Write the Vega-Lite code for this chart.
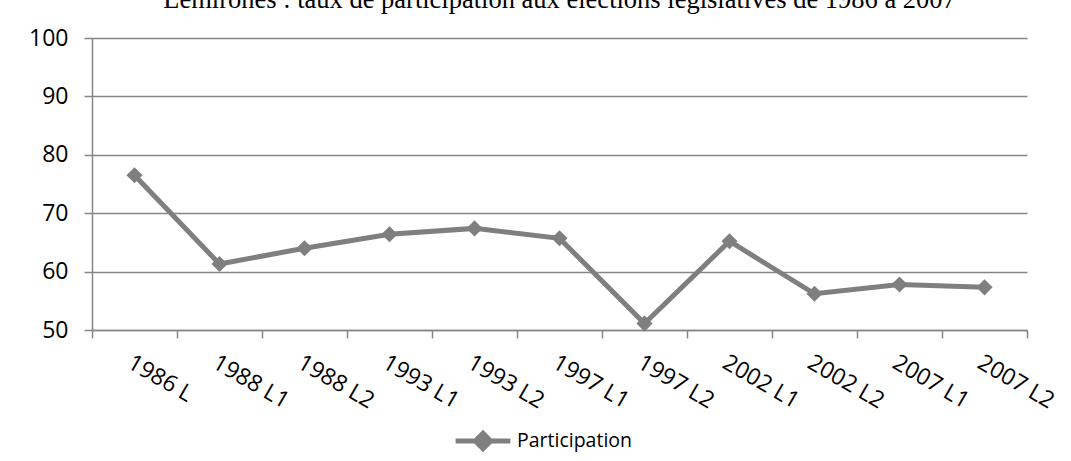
{
  "$schema": "https://vega.github.io/schema/vega-lite/v6.json",
  "autosize": {"type": "none"},
  "width": 935,
  "height": 292,
  "padding": {"left": 92, "top": 38, "right": 44, "bottom": 131},
  "background": "white",
  "title": {
    "text": "Lemirones : taux de participation aux élections législatives de 1986 à 2007",
    "font": "Liberation Serif",
    "fontSize": 26.5,
    "fontWeight": "normal",
    "color": "black",
    "anchor": "middle",
    "frame": "group",
    "baseline": "alphabetic",
    "offset": -7
  },
  "data": {
    "values": [
      {"scrutin": "1986 L", "participation": 76.5},
      {"scrutin": "1988 L1", "participation": 61.3},
      {"scrutin": "1988 L2", "participation": 64.0},
      {"scrutin": "1993 L1", "participation": 66.4},
      {"scrutin": "1993 L2", "participation": 67.4},
      {"scrutin": "1997 L1", "participation": 65.7},
      {"scrutin": "1997 L2", "participation": 51.1},
      {"scrutin": "2002 L1", "participation": 65.2},
      {"scrutin": "2002 L2", "participation": 56.2},
      {"scrutin": "2007 L1", "participation": 57.8},
      {"scrutin": "2007 L2", "participation": 57.3}
    ]
  },
  "encoding": {
    "x": {
      "field": "scrutin",
      "type": "ordinal",
      "sort": null,
      "bandPosition": 0.5,
      "scale": {"type": "band", "paddingInner": 0, "paddingOuter": 0},
      "axis": {
        "title": null,
        "labelAngle": 30,
        "labelAlign": "left",
        "labelBaseline": "top",
        "labelPadding": 13,
        "labelFont": "Open Sans",
        "labelFontSize": 23,
        "labelColor": "black",
        "tickBand": "extent",
        "tickSize": 8,
        "tickColor": "#868686",
        "tickWidth": 1.5,
        "domainColor": "#868686",
        "domainWidth": 1.5,
        "grid": false
      }
    },
    "y": {
      "field": "participation",
      "type": "quantitative",
      "scale": {"domain": [50, 100], "nice": false, "zero": false},
      "axis": {
        "title": null,
        "values": [50, 60, 70, 80, 90, 100],
        "labelFont": "Open Sans",
        "labelFontSize": 23,
        "labelColor": "black",
        "labelPadding": 16,
        "tickSize": 8,
        "tickColor": "#868686",
        "tickWidth": 1.5,
        "domainColor": "#868686",
        "domainWidth": 1.5,
        "grid": true,
        "gridColor": "#868686",
        "gridWidth": 1.5
      }
    },
    "color": {
      "datum": "Participation",
      "type": "nominal",
      "scale": {"range": ["#7f7f7f"]},
      "legend": {
        "title": null,
        "orient": "none",
        "legendX": 361,
        "legendY": 373,
        "symbolType": "M-1,0H1M0,-0.28L0.28,0L0,0.28L-0.28,0Z",
        "symbolSize": 3000,
        "symbolStrokeWidth": 5,
        "symbolFillColor": "#7f7f7f",
        "symbolStrokeColor": "#7f7f7f",
        "labelFont": "Open Sans",
        "labelFontSize": 19.5,
        "labelColor": "black",
        "labelOffset": 4
      }
    }
  },
  "layer": [
    {"mark": {"type": "line", "strokeWidth": 5, "color": "#7f7f7f"}},
    {"mark": {"type": "point", "shape": "diamond", "size": 260, "filled": true, "opacity": 1, "color": "#7f7f7f"}}
  ],
  "config": {"view": {"stroke": null}}
}
